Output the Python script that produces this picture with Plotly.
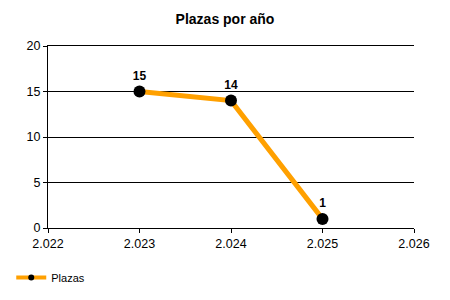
import plotly.graph_objects as go

years = [2023, 2024, 2025]
plazas = [15, 14, 1]
labels = ["15", "14", "1"]
xticks = [2022, 2023, 2024, 2025, 2026]
xticklabels = ["2.022", "2.023", "2.024", "2.025", "2.026"]

fig = go.Figure()
fig.add_trace(go.Scatter(
    x=years, y=plazas, name="Plazas",
    mode="lines+markers+text",
    text=labels, textposition="top center",
    textfont=dict(family="Liberation Sans, Arial", size=12, color="black", weight="bold"),
    line=dict(color="#FFA000", width=5),
    marker=dict(color="black", size=12),
    cliponaxis=False, showlegend=False,
))
# legend-only entry with a smaller marker, as in the reference legend
fig.add_trace(go.Scatter(
    x=[None], y=[None], name="Plazas", mode="lines+markers",
    line=dict(color="#FFA000", width=4),
    marker=dict(color="black", size=6),
))

fig.update_layout(
    width=450, height=300,
    margin=dict(l=48, r=36, t=46, b=72),
    paper_bgcolor="white", plot_bgcolor="white",
    font=dict(family="Liberation Sans, Arial", size=12.5, color="black"),
    title=dict(text="<b>Plazas por año</b>", x=0.5, xanchor="center", y=0.935, yanchor="middle",
               xref="container", font=dict(size=14, color="black")),
    xaxis=dict(range=[2022, 2026], tickmode="array", tickvals=xticks, ticktext=xticklabels,
               showgrid=False, zeroline=False, showline=True, linecolor="black", linewidth=1,
               mirror=True, ticks="outside", ticklen=4, tickcolor="black"),
    yaxis=dict(range=[0, 20], tickvals=[0, 5, 10, 15, 20], showgrid=True, gridcolor="black",
               gridwidth=1, zeroline=False, showline=True, linecolor="black", linewidth=1,
               ticks="outside", ticklen=4, tickcolor="black"),
    showlegend=True,
    legend=dict(orientation="h", xref="container", yref="container", x=0.025, y=0.075,
                xanchor="left", yanchor="middle", font=dict(size=11),
                itemwidth=30),
)

fig.write_html("out.html")
